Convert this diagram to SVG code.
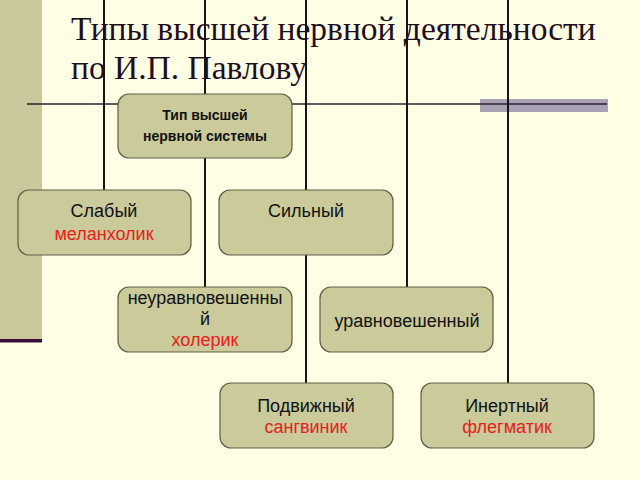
<svg xmlns="http://www.w3.org/2000/svg" width="640" height="480" viewBox="0 0 640 480">
<style>
.box{fill:#CACA9A;stroke:#5E5E48;stroke-width:1.2}
.t{font-family:"Liberation Sans",Arial,sans-serif;font-size:18px;fill:#111;text-anchor:middle}
.r{fill:#E8201A}
.b{font-family:"Liberation Sans",Arial,sans-serif;font-size:14px;font-weight:bold;fill:#111;text-anchor:middle}
.ttl{font-family:"Liberation Serif","Times New Roman",serif;font-size:33.5px;fill:#1E0E1E}
.v{stroke:#151515;stroke-width:2;fill:none}
</style>
<rect x="0" y="0" width="640" height="480" fill="#FFFFE6"/>
<rect x="0" y="0" width="42" height="340" fill="#C8C89A"/>
<rect x="0" y="339" width="42" height="3.5" fill="#3A0E3A"/>
<rect x="480" y="99" width="128" height="13" fill="#A8A2B4"/>
<g id="connectors">
<line x1="27" y1="104" x2="607" y2="104" stroke="#2E1E32" stroke-width="1.6"/>
<line class="v" x1="104" y1="0" x2="104" y2="190"/>
<line class="v" x1="205" y1="0" x2="205" y2="288"/>
<line class="v" x1="306" y1="0" x2="306" y2="384"/>
<line class="v" x1="407" y1="0" x2="407" y2="288"/>
<line class="v" x1="508" y1="0" x2="508" y2="384"/>
</g>
<g id="title">
<text class="ttl" x="71" y="40">Типы высшей нервной деятельности</text>
<text class="ttl" x="71" y="79">по И.П. Павлову</text>
</g>
<g id="root">
<rect class="box" x="118" y="94" width="174" height="64" rx="11"/>
<text class="b" x="205" y="120">Тип высшей</text>
<text class="b" x="205" y="141">нервной системы</text>
</g>
<g id="weak">
<rect class="box" x="18" y="190" width="173" height="65" rx="11"/>
<text class="t" x="104" y="217">Слабый</text>
<text class="t r" x="104" y="240">меланхолик</text>
</g>
<g id="strong">
<rect class="box" x="219" y="190" width="174" height="65" rx="11"/>
<text class="t" x="306" y="217">Сильный</text>
</g>
<g id="unbalanced">
<rect class="box" x="118" y="287" width="174" height="65" rx="11"/>
<text class="t" x="205" y="304">неуравновешенны</text>
<text class="t" x="205" y="325">й</text>
<text class="t r" x="205" y="346">холерик</text>
</g>
<g id="balanced">
<rect class="box" x="320" y="287" width="173" height="65" rx="11"/>
<text class="t" x="407" y="327">уравновешенный</text>
</g>
<g id="mobile">
<rect class="box" x="220" y="383" width="173" height="65" rx="11"/>
<text class="t" x="306" y="412">Подвижный</text>
<text class="t r" x="306" y="433">сангвиник</text>
</g>
<g id="inert">
<rect class="box" x="421" y="383" width="173" height="65" rx="11"/>
<text class="t" x="507" y="412">Инертный</text>
<text class="t r" x="507" y="433">флегматик</text>
</g>
</svg>
